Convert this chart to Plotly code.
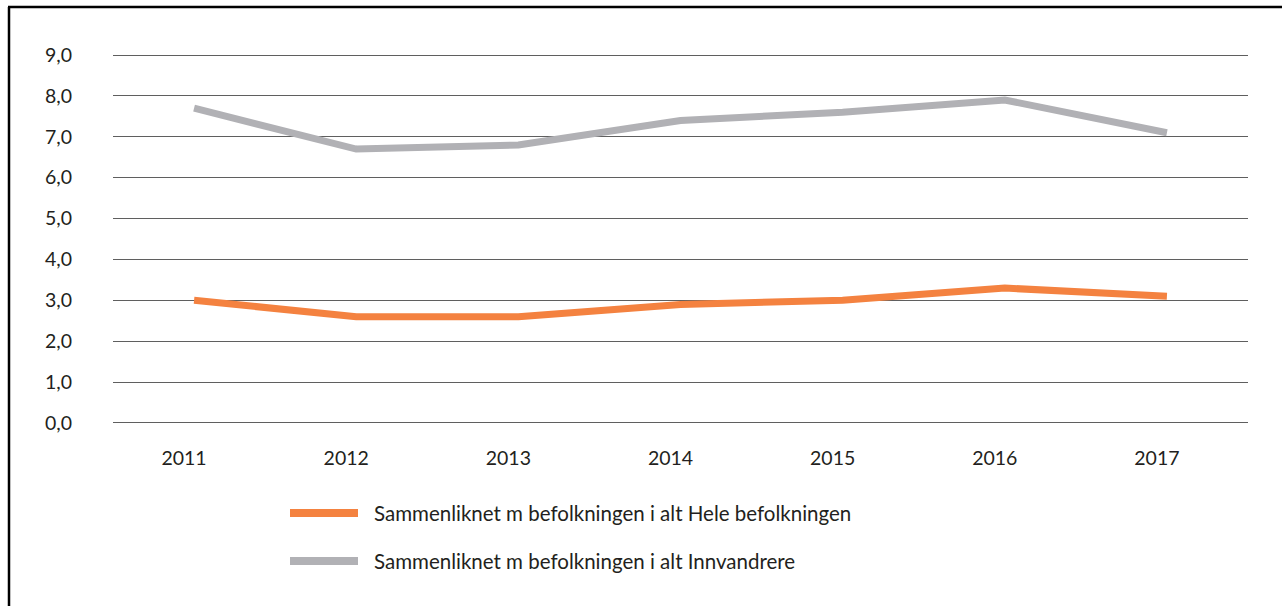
import plotly.graph_objects as go

# Data
years = ["2011", "2012", "2013", "2014", "2015", "2016", "2017"]
hele_befolkningen = [3.0, 2.6, 2.6, 2.9, 3.0, 3.3, 3.1]
innvandrere = [7.7, 6.7, 6.8, 7.4, 7.6, 7.9, 7.1]
y_ticks = [0, 1, 2, 3, 4, 5, 6, 7, 8, 9]

series_names = [
    "Sammenliknet m befolkningen i alt Hele befolkningen",
    "Sammenliknet m befolkningen i alt Innvandrere",
]
ORANGE = "#F48240"
GREY = "#B1B1B5"
FONT = "Lato"
TXT = "#231F20"
FS = 19.5
LEG_FS = 20.5

fig = go.Figure()
fig.add_trace(go.Scatter(x=years, y=innvandrere, mode="lines", name=series_names[1],
                         line=dict(color=GREY, width=7), showlegend=False))
fig.add_trace(go.Scatter(x=years, y=hele_befolkningen, mode="lines", name=series_names[0],
                         line=dict(color=ORANGE, width=7), showlegend=False))

# Plot area geometry (pixels) used for the custom legend and frame
W, H = 1282, 606
L, R, T, B = 113, 34, 54, 182
pw, ph = W - L - R, H - T - B


def px_x(x):
    return (x - L) / pw


def px_y(y):
    return (H - B - y) / ph


shapes = []
annotations = []
# Custom legend: long swatch + label
for i, (name, color) in enumerate([(series_names[0], ORANGE), (series_names[1], GREY)]):
    yc = 513 + i * 48
    shapes.append(dict(type="line", xref="paper", yref="paper",
                       x0=px_x(290), x1=px_x(358), y0=px_y(yc), y1=px_y(yc),
                       line=dict(color=color, width=8)))
    annotations.append(dict(text=name, xref="paper", yref="paper",
                            x=px_x(372), y=px_y(yc), xanchor="left", yanchor="middle",
                            showarrow=False, font=dict(family=FONT, size=LEG_FS, color=TXT)))

# Frame lines (left and top)
shapes.append(dict(type="line", xref="paper", yref="paper",
                   x0=px_x(9), x1=px_x(9), y0=px_y(H + 10), y1=px_y(7),
                   line=dict(color="black", width=2.5)))
shapes.append(dict(type="line", xref="paper", yref="paper",
                   x0=px_x(8), x1=px_x(W + 10), y0=px_y(7), y1=px_y(7),
                   line=dict(color="black", width=2.5)))

fig.update_layout(
    width=W, height=H,
    margin=dict(l=L, r=R, t=T, b=B),
    paper_bgcolor="white", plot_bgcolor="white",
    separators=", ",
    font=dict(family=FONT, size=FS, color=TXT),
    shapes=shapes,
    annotations=annotations,
    xaxis=dict(type="category", range=[-0.5, 6.5], showgrid=False, zeroline=False,
               showline=False, ticks="", ticklabelstandoff=20, ticklabelshift=-10,
               tickfont=dict(family=FONT, size=FS, color=TXT)),
    yaxis=dict(range=[-0.025, 9.025], tickvals=y_ticks, tickformat=".1f", showgrid=True,
               gridcolor="#5f5f5f", gridwidth=1.2, zeroline=False, showline=False,
               ticks="", ticklabelstandoff=40,
               tickfont=dict(family=FONT, size=FS, color=TXT)),
)

fig.write_html("out.html")
